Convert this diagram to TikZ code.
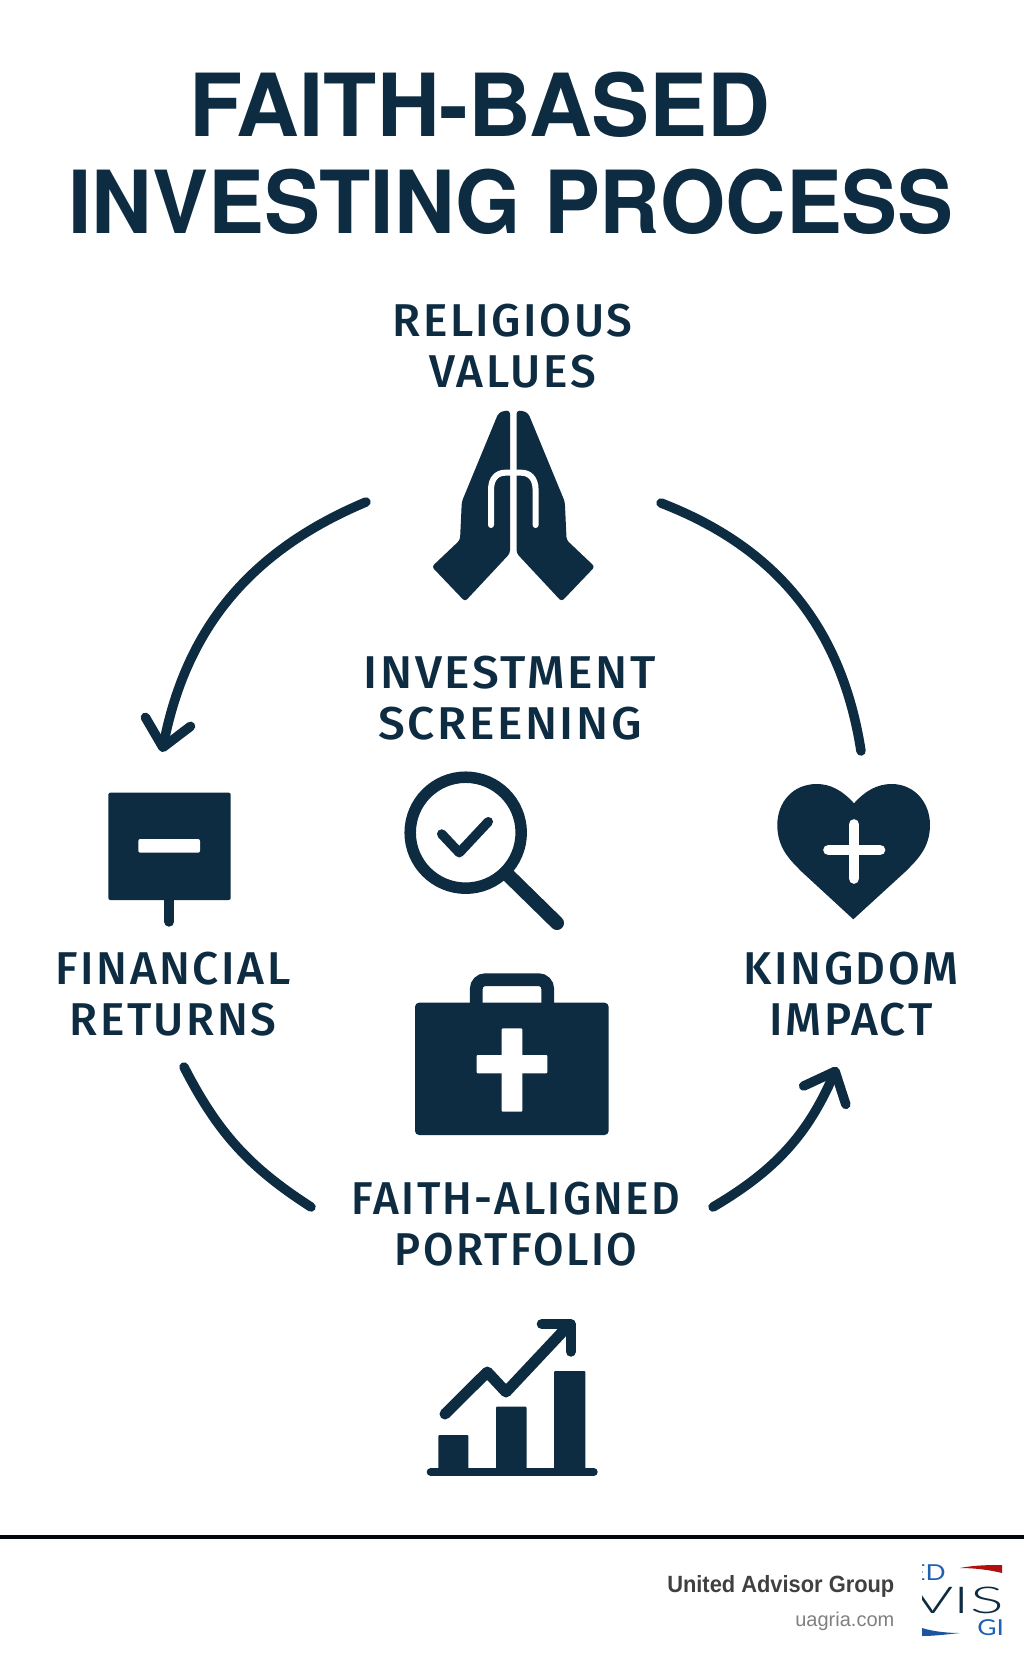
\documentclass[tikz,border=0pt]{standalone}
\usepackage{fontspec}
\setmainfont{Fira Sans}
\newfontfamily\titlefont{TeX Gyre Heros}
\newfontfamily\labelfont[LetterSpace=5.5]{Fira Sans Medium}
\newfontfamily\footfont{Liberation Sans}
\newfontfamily\logofont{Lato}
\newfontfamily\logothin{Lato Light}
\usetikzlibrary{arrows.meta}
\definecolor{navy}{HTML}{0D2B41}
\definecolor{logoblue}{HTML}{1F5FB4}
\definecolor{logored}{HTML}{B01010}

\begin{document}
\begin{tikzpicture}[x=1pt,y=-1pt,
    title node/.style={text=navy,inner sep=0pt,font=\titlefont\bfseries\fontsize{87}{87}\selectfont},
    label node/.style={text=navy,inner sep=0pt,align=center,font=\labelfont\fontsize{46}{51}\selectfont},
    cycle arc/.style={draw=navy,line width=9.5pt,line cap=round},
    cycle tip/.style={-{Straight Barb[length=26pt,width=46pt,round]}},
    icon line/.style={draw=navy,line cap=round,line join=round},
    icon cut/.style={draw=white,line cap=round,line join=round}
    ]
   \useasboundingbox (0,0) rectangle (1024,1666);
   \node[title node] (title1) at (480,104.7) {FAITH-BASED};
   \node[title node,xscale=.964] (title2) at (511,201.7) {INVESTING PROCESS};
   \node[label node] (values) at (512.5,346) {RELIGIOUS\\VALUES};
   \node[label node,xscale=1.04] (screening) at (510,698.5) {INVESTMENT\\SCREENING};
   \node[label node] (returns) at (173,994.5) {FINANCIAL\\RETURNS};
   \node[label node] (impact) at (851,994.5) {KINGDOM\\IMPACT};
   \node[label node,xscale=.96] (portfolio) at (516,1224) {FAITH-ALIGNED\\PORTFOLIO};
   % arcs
   \coordinate (a1) at (366,502);
   \coordinate (a2) at (162,752);
   \coordinate (b1) at (661,503);
   \coordinate (b2) at (861,751);
   \coordinate (c1) at (184,1067);
   \coordinate (c2) at (311,1207);
   \coordinate (d1) at (713,1207);
   \coordinate (d2) at (837,1067);
   \path[cycle arc,cycle tip] (a1) to[bend right=28] (a2);
   \path[cycle arc] (b1) to[bend left=30] (b2);
   \path[cycle arc] (c1) to[bend right=15] (c2);
   \path[cycle arc,cycle tip] (d1) to[bend right=18] (d2);
   % praying hands
   \foreach \m in {1,-1} {
     \begin{scope}[shift={(513.3,0)},xscale=\m]
       \fill[navy,rounded corners=3pt] (-9.3,410.7) -- (-3.3,410.7) -- (-3.3,553.3) -- (-48.3,601.5) -- (-81.5,566.7) -- (-53.3,540) -- (-51.5,501.7) -- (-15,413.3) -- cycle;
       \draw[icon cut,line width=6pt] (-22.3,525) -- (-22.3,490) .. controls (-22.3,478) and (-16,472.7) .. (-8,472.7) -- (0,472.7);
     \end{scope}
   }
   % magnifier
   \draw[icon line,line width=11.5pt] (465.7,832.7) circle[radius=55.5pt];
   \draw[icon line,line width=14pt] (508,875) -- (557,923);
   \draw[icon line,line width=9.5pt] (441.7,834) -- (459.3,852.7) -- (488.3,821.7);
   % sign
   \fill[navy,rounded corners=2pt] (108.3,792.7) rectangle (230.7,900);
   \draw[icon line,line width=10pt] (169.3,898) -- (169.3,921.7);
   \fill[white,rounded corners=2pt] (138.3,839) rectangle (200,852.7);
   % heart
   \fill[navy] (854,803.3) .. controls (842,790) and (830,784) .. (816.7,784)
     .. controls (793,784) and (777.3,802) .. (777.3,825)
     .. controls (777.3,848) and (790,860) .. (802,872) -- (853.3,919.3) -- (905,872)
     .. controls (917,860) and (930,848) .. (930,825)
     .. controls (930,802) and (914,784) .. (891.7,784)
     .. controls (878,784) and (866,790) .. (854,803.3) -- cycle;
   \draw[icon cut,line width=10.7pt] (854,824.5) -- (854,878.5);
   \draw[icon cut,line width=10.7pt] (828.5,850) -- (880,850);
   % briefcase
   \draw[navy,line width=12.7pt,rounded corners=9pt] (476.3,1006) -- (476.3,979.7) -- (547.7,979.7) -- (547.7,1006);
   \fill[navy,rounded corners=4pt] (415,1002.7) rectangle (608.6,1135);
   \fill[white,rounded corners=1pt] (501.7,1028.3) rectangle (522.3,1111.7);
   \fill[white,rounded corners=1pt] (476.7,1055) rectangle (547.3,1073.3);
   % chart
   \draw[icon line,line width=8pt] (430.7,1472) -- (593.7,1472);
   \fill[navy,rounded corners=1pt] (438.3,1435) rectangle (468.3,1472);
   \fill[navy,rounded corners=1pt] (496,1406.7) rectangle (526.7,1472);
   \fill[navy,rounded corners=1pt] (554,1371) rectangle (585.3,1472);
   \draw[icon line,line width=11pt] (445,1414) -- (487.3,1372) -- (506,1392) -- (568,1326);
   \draw[icon line,line width=10pt] (541.7,1324) -- (570.7,1324) -- (570.7,1351.7);
   % footer
   \coordinate (r1) at (0,1537);
   \coordinate (r2) at (1024,1537);
   \draw[draw=black!85!navy,line width=3.2pt] (r1) -- (r2);
   \node[anchor=east,inner sep=0pt,xscale=.93,text=black!75,font=\footfont\bfseries\fontsize{23.5}{23.5}\selectfont] (advisor) at (894.5,1586) {United Advisor Group};
   \node[anchor=east,inner sep=0pt,text=black!50,font=\footfont\fontsize{20}{20}\selectfont] (site) at (894.5,1621) {uagria.com};
   \begin{scope}
     \clip (922,1563) rectangle (1002,1637);
     \node[anchor=east,inner sep=0pt,xscale=1.2,text=logoblue,font=\logofont\fontsize{22}{22}\selectfont] (logoed) at (946,1573) {ED};
     \node[anchor=west,inner sep=0pt,text=navy,xscale=1.7,font=\logothin\fontsize{37}{37}\selectfont] (logovis) at (912,1600) {VIS};
     \node[anchor=west,inner sep=0pt,xscale=1.2,text=logoblue,font=\logofont\fontsize{22}{22}\selectfont] (logogi) at (977,1628) {GI};
     \fill[logored] (960,1568) .. controls (975,1565) and (990,1565) .. (1002,1565) -- (1002,1573) .. controls (990,1570) and (975,1568) .. (960,1568) -- cycle;
     \fill[logoblue!80!navy] (922,1628) .. controls (935,1632) and (950,1633) .. (960,1633) .. controls (950,1634) and (935,1636) .. (922,1636) -- cycle;
   \end{scope}
\end{tikzpicture}
\end{document}
